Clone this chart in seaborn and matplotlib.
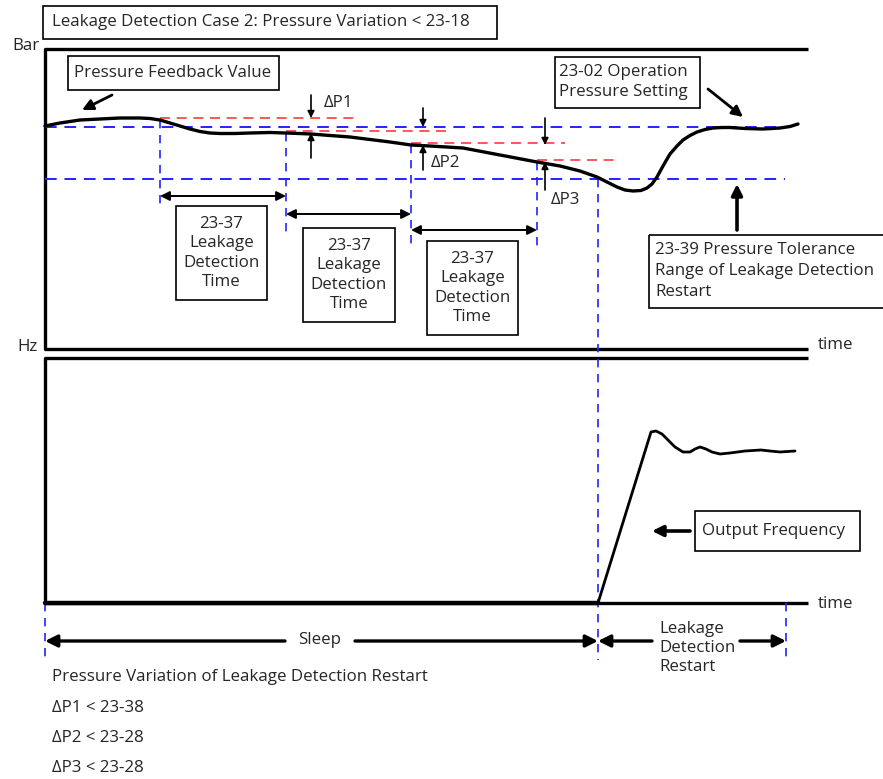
import numpy as np
import pandas as pd
import seaborn as sns
from matplotlib import pyplot as plt
from matplotlib.patches import Rectangle

# ============================================================
# DATA – schematic curves (time / level in drawing units)
# ============================================================
pressure_t = [45, 60, 80, 100, 120, 140, 150, 160, 170, 180, 190, 200, 210, 220, 235, 250,
              270, 286, 311, 330, 350, 370, 390, 411, 430, 463, 500, 537, 560, 580, 597,
              607, 617, 625, 633, 641, 647, 652, 657, 663, 670, 677, 683, 690, 697, 705,
              713, 722, 730, 745, 763, 772, 780, 790, 798]
pressure_v = [126, 123, 120, 119, 118, 118, 118.5, 120, 123, 126, 129, 131.5, 133, 133.5,
              133.5, 133, 132.5, 133, 134, 135.5, 137, 139.5, 142, 145, 146, 148, 155, 162,
              166, 171, 177, 182, 187, 190, 191, 190.5, 188, 184, 177, 166, 154, 146, 140,
              135.5, 132, 129.5, 128, 127.5, 127.5, 128.5, 129, 128.5, 128, 126.5, 124]

freq_t = [45, 598, 651, 656, 662, 668, 675, 683, 690, 695, 700, 706, 712, 720, 730, 745,
          761, 770, 780, 795]
freq_v = [603, 603, 432, 431, 434, 440, 447, 452, 452, 449, 447, 449, 452, 454, 453, 451,
          450, 451, 452, 451]

detect_starts = [160, 286, 411, 537]     # start of each 23-37 window
sleep_end = 598
restart_end = 786
setpoint_level = 127
tolerance_level = 179

dp_labels = ["\u0394P1", "\u0394P2", "\u0394P3"]
bottom_lines = ["Pressure Variation of Leakage Detection Restart",
                "\u0394P1 < 23-38", "\u0394P2 < 23-28", "\u0394P3 < 23-28"]

sns.set_style("white")
plt.rcParams['font.family'] = ['Open Sans', 'DejaVu Sans']
FS = 12.2

fig = plt.figure(figsize=(8.83, 7.79), dpi=100)
ax = fig.add_axes([0, 0, 1, 1])
ax.set_xlim(0, 883)
ax.set_ylim(779, 0)
ax.axis('off')

BLUE = '#2323ff'
RED = '#ff3b3b'


def box(x0, y0, x1, y1):
    ax.add_patch(Rectangle((x0, y0), x1 - x0, y1 - y0, fill=False, ec='black', lw=1.2))


def arrow(p0, p1, style='-|>', lw=1.6, ms=14):
    ax.annotate('', xy=p1, xytext=p0,
                arrowprops=dict(arrowstyle=style, color='black', lw=lw,
                                mutation_scale=ms, shrinkA=0, shrinkB=0))


# title
box(43, 6, 497, 39)
ax.text(52, 22, "Leakage Detection Case 2: Pressure Variation < 23-18", fontsize=FS, va='center')

# axes frames
ax.text(12, 46, "Bar", fontsize=FS, va='center')
ax.text(17, 347, "Hz", fontsize=FS, va='center')
for y in (49, 349, 358, 603):
    ax.plot([45, 808], [y, y], color='black', lw=2.4, solid_capstyle='butt')
ax.plot([45, 45], [49, 349], color='black', lw=2.4)
ax.plot([45, 45], [358, 603], color='black', lw=2.4)
ax.text(818, 345, "time", fontsize=FS, va='center')
ax.text(818, 604, "time", fontsize=FS, va='center')

# blue dashed reference levels
ax.plot([45, 790], [setpoint_level] * 2, color=BLUE, lw=1.4, ls=(0, (6, 4)))
ax.plot([45, 785], [tolerance_level] * 2, color=BLUE, lw=1.4, ls=(0, (6, 4)))
vert_bottoms = [210, 237, 250, 250]
for xs, yb in zip(detect_starts, vert_bottoms):
    yv = np.interp(xs, pressure_t, pressure_v)
    ax.plot([xs, xs], [yv, yb], color=BLUE, lw=1.2, ls=(0, (5, 4)))
ax.plot([sleep_end, sleep_end], [tolerance_level, 660], color=BLUE, lw=1.2, ls=(0, (5, 4)))
ax.plot([45, 45], [603, 660], color=BLUE, lw=1.2, ls=(0, (5, 4)))
ax.plot([restart_end, restart_end], [603, 660], color=BLUE, lw=1.2, ls=(0, (5, 4)))

# red dashed lines from each window start
red_ends = [360, 450, 565, 618]
for xs, xe in zip(detect_starts, red_ends):
    yv = np.interp(xs, pressure_t, pressure_v)
    ax.plot([xs, xe], [yv - 2, yv - 2], color=RED, lw=1.2, ls=(0, (6, 4)))

# curves
sns.lineplot(x=pressure_t, y=pressure_v, sort=False, color='black', lw=2.4, ax=ax)
sns.lineplot(x=freq_t, y=freq_v, sort=False, color='black', lw=2.0, ax=ax)
ax.plot([45, sleep_end], [603, 603], color='black', lw=3.2)

# delta P arrows
dp_x = [311, 423, 545]
dp_top = [(95, 118), (108, 127), (118, 145)]
dp_bot = [(158, 133), (170, 145), (190, 162)]
dp_text = [(324, 103), (431, 163), (551, 200)]
for x, (a0, a1), (b0, b1), (tx, ty), lab in zip(dp_x, dp_top, dp_bot, dp_text, dp_labels):
    arrow((x, a0), (x, a1), lw=1.2, ms=10)
    arrow((x, b0), (x, b1), lw=1.2, ms=10)
    ax.text(tx, ty, lab, fontsize=FS, va='center')

# detection time spans
span_y = [196, 214, 230]
boxes = [(176, 206, 267, 300), (303, 228, 395, 322), (427, 241, 518, 335)]
for i, y in enumerate(span_y):
    arrow((detect_starts[i], y), (detect_starts[i + 1], y), style='<|-|>', lw=1.4, ms=14)
    x0, y0, x1, y1 = boxes[i]
    box(x0, y0, x1, y1)
    ax.text((x0 + x1) / 2, (y0 + y1) / 2, "23-37\nLeakage\nDetection\nTime", fontsize=FS,
            ha='center', va='center', linespacing=1.3)

# callouts
box(68, 56, 279, 90)
ax.text(74, 73, "Pressure Feedback Value", fontsize=FS, va='center')
arrow((112, 95), (82, 110), lw=2.0, ms=16)

box(555, 57, 700, 108)
ax.text(559, 82, "23-02 Operation\nPressure Setting", fontsize=FS, va='center', linespacing=1.3)
arrow((708, 89), (743, 117), lw=2.0, ms=16)

box(649, 235, 890, 308)
ax.text(655, 271, "23-39 Pressure Tolerance\nRange of Leakage Detection\nRestart", fontsize=FS,
        va='center', linespacing=1.38)
arrow((737, 230), (737, 184), lw=2.6, ms=16)

box(695, 511, 860, 551)
ax.text(702, 531, "Output Frequency", fontsize=FS, va='center')
arrow((690, 531), (652, 531), lw=2.6, ms=16)

# sleep / restart spans
arrow((285, 641), (45, 641), lw=2.4, ms=18)
arrow((355, 641), (sleep_end, 641), lw=2.4, ms=18)
ax.text(320, 640, "Sleep", fontsize=FS, ha='center', va='center')
arrow((652, 641), (sleep_end, 641), lw=2.4, ms=18)
arrow((740, 641), (restart_end, 641), lw=2.4, ms=18)
ax.text(659, 648, "Leakage\nDetection\nRestart", fontsize=FS, ha='left', va='center',
        linespacing=1.25)

for i, line in enumerate(bottom_lines):
    ax.text(52, 677 + i * 30.5, line, fontsize=FS, va='center')

plt.savefig('out.png', dpi=100)
